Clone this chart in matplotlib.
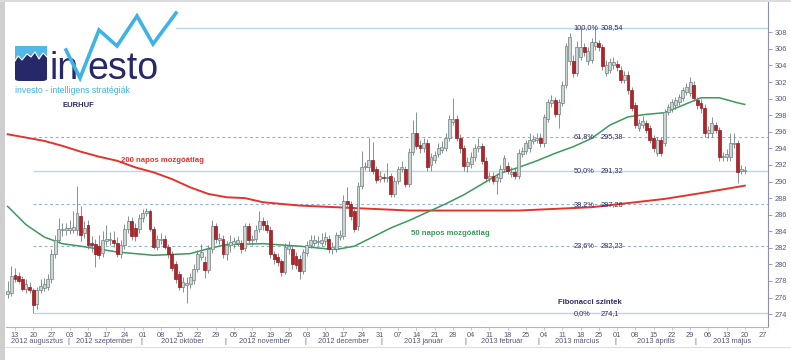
import numpy as np
import pandas as pd
import matplotlib
matplotlib.use("Agg")
import matplotlib.pyplot as plt
from matplotlib.lines import Line2D
from matplotlib.patches import Rectangle, Polygon, FancyBboxPatch

plt.rcParams['font.family'] = ['Liberation Sans', 'DejaVu Sans']

# EURHUF napi gyertyák, 2012.08.09-tol (munkanapok)
opens = [276.4, 276.5, 278.7, 278.6, 278.2, 277.0, 277.3, 276.9, 275.2, 276.9,
         277.2, 277.3, 278.2, 281.2, 283.0, 284.1, 284.2, 284.2, 284.2, 284.2,
         285.8, 283.8, 284.8, 282.6, 282.5, 282.2, 281.4, 282.8, 282.9, 283.0,
         282.6, 281.3, 282.4, 284.3, 285.2, 284.4, 284.3, 285.6, 286.2, 286.4,
         284.3, 282.1, 282.9, 283.1, 282.1, 281.2, 280.0, 278.9, 277.3, 277.5,
         277.6, 278.1, 279.5, 280.9, 280.3, 279.3, 281.8, 284.6, 283.0, 283.1,
         281.2, 282.4, 282.5, 282.6, 282.6, 282.0, 284.6, 282.9, 283.1, 284.3,
         285.2, 284.7, 284.2, 281.2, 280.9, 280.4, 279.1, 281.9, 281.8, 281.0,
         280.7, 279.2, 281.4, 282.4, 282.6, 282.7, 282.6, 282.8, 283.1, 281.8,
         281.9, 283.3, 283.4, 287.6, 287.3, 286.4, 284.6, 289.5, 291.7, 291.7,
         292.6, 291.5, 290.3, 290.6, 290.4, 290.7, 288.5, 290.1, 291.5, 291.5,
         289.7, 293.6, 295.8, 294.4, 294.0, 294.7, 292.0, 292.6, 293.3, 293.8,
         294.1, 295.3, 297.2, 297.6, 295.3, 294.0, 291.9, 292.1, 292.9, 294.0,
         294.3, 292.5, 290.4, 290.7, 290.1, 290.4, 291.5, 291.9, 290.9, 291.1,
         290.7, 293.3, 293.7, 294.0, 294.9, 295.0, 295.3, 294.6, 297.6, 299.5,
         299.8, 298.2, 299.5, 301.7, 304.5, 304.5, 303.1, 305.0, 306.2, 304.5,
         304.7, 306.3, 306.7, 306.2, 303.1, 303.5, 304.0, 304.2, 303.5, 302.3,
         302.9, 301.0, 299.2, 296.5, 296.8, 297.0, 296.4, 295.2, 293.5, 295.0,
         294.7, 298.4, 298.8, 299.2, 299.6, 300.1, 300.8, 300.7, 301.7, 299.8,
         299.5, 298.9, 295.8, 295.8, 296.8, 296.2, 292.9, 292.9, 292.9, 294.5,
         294.6, 291.3, 291.3]
highs = [278.0, 279.8, 279.6, 279.1, 278.6, 278.2, 277.9, 277.2, 277.3, 278.2,
         278.4, 278.9, 281.9, 283.6, 285.6, 285.0, 285.0, 285.3, 286.4, 289.5,
         287.0, 285.2, 285.4, 283.4, 283.1, 283.6, 284.0, 284.7, 283.9, 284.0,
         283.3, 282.9, 284.9, 285.9, 285.7, 285.0, 286.1, 286.7, 286.8, 286.7,
         284.6, 283.6, 283.8, 283.6, 282.5, 281.6, 280.4, 279.2, 278.5, 278.5,
         279.0, 280.0, 281.7, 282.5, 281.0, 282.3, 285.4, 285.0, 283.8, 283.5,
         282.8, 283.6, 283.3, 283.4, 283.0, 285.0, 285.0, 283.6, 284.7, 286.4,
         285.7, 285.3, 284.6, 281.6, 281.4, 280.7, 282.6, 282.8, 282.3, 281.5,
         281.1, 281.9, 282.8, 283.5, 283.6, 283.4, 283.8, 283.9, 283.5, 282.7,
         283.9, 284.1, 288.4, 289.3, 287.7, 286.8, 290.0, 293.7, 292.4, 295.3,
         294.8, 291.9, 291.3, 291.0, 292.2, 291.0, 290.5, 291.9, 292.5, 291.9,
         294.0, 297.4, 298.4, 295.0, 295.3, 295.1, 293.5, 293.7, 294.6, 294.9,
         295.8, 298.0, 300.1, 298.0, 295.7, 294.4, 292.9, 293.6, 294.5, 295.3,
         294.7, 292.9, 291.2, 291.1, 291.0, 292.0, 293.2, 292.4, 291.8, 291.6,
         293.9, 294.2, 295.0, 295.9, 295.6, 295.8, 295.8, 298.2, 300.0, 300.4,
         300.2, 300.0, 302.1, 306.7, 307.9, 305.3, 306.9, 308.5, 306.7, 306.2,
         307.3, 308.54, 307.1, 306.6, 304.6, 304.9, 305.0, 304.7, 303.9, 303.3,
         303.3, 301.4, 299.6, 297.6, 297.9, 297.4, 296.8, 295.6, 295.4, 295.4,
         298.8, 299.4, 300.0, 300.2, 300.6, 301.4, 301.9, 302.6, 302.1, 300.2,
         299.9, 299.3, 296.7, 297.8, 297.2, 296.6, 293.6, 293.9, 295.9, 295.9,
         295.0, 292.0, 291.9]
lows = [275.9, 276.2, 277.9, 277.7, 276.8, 276.6, 276.5, 274.1, 274.6, 276.5,
        276.8, 276.9, 277.8, 280.8, 282.6, 283.4, 283.6, 283.7, 283.8, 283.6,
        282.8, 283.2, 281.9, 281.5, 279.7, 280.6, 280.9, 282.3, 282.4, 282.1,
        280.9, 280.8, 281.9, 283.8, 283.0, 282.8, 283.8, 285.1, 285.8, 284.0,
        281.8, 281.7, 282.5, 281.8, 280.8, 279.2, 277.8, 276.9, 276.7, 275.4,
        277.2, 277.6, 279.1, 280.5, 278.4, 279.0, 281.4, 282.6, 282.5, 280.8,
        280.5, 281.5, 282.0, 282.2, 281.4, 281.6, 282.5, 282.4, 282.7, 283.9,
        284.2, 283.8, 280.8, 280.1, 279.8, 278.6, 278.8, 281.3, 279.5, 279.4,
        278.2, 278.9, 281.0, 282.0, 282.2, 282.3, 282.2, 282.4, 281.4, 281.3,
        281.5, 282.9, 283.1, 286.8, 285.4, 283.9, 284.2, 289.1, 291.4, 291.3,
        290.9, 289.8, 289.9, 290.0, 290.0, 288.1, 288.1, 289.7, 291.1, 289.3,
        289.3, 293.2, 293.9, 293.5, 293.6, 291.3, 291.3, 292.2, 292.9, 293.4,
        293.7, 294.9, 296.8, 294.9, 293.5, 291.3, 291.2, 291.6, 292.5, 293.6,
        292.1, 290.0, 289.9, 289.7, 288.5, 290.0, 291.1, 290.9, 290.5, 290.3,
        290.3, 292.9, 293.3, 293.6, 294.5, 294.6, 294.2, 294.2, 297.2, 299.0,
        297.8, 296.5, 299.1, 301.3, 304.1, 302.6, 302.7, 304.6, 305.1, 304.0,
        304.3, 305.9, 305.8, 303.5, 302.7, 303.1, 303.6, 303.3, 301.9, 301.9,
        300.6, 298.5, 296.4, 296.1, 296.4, 295.8, 294.6, 293.6, 293.1, 293.1,
        294.3, 298.0, 298.4, 298.8, 299.2, 299.7, 300.4, 300.3, 299.7, 298.8,
        298.3, 295.4, 295.3, 295.4, 295.8, 292.5, 292.5, 292.5, 292.5, 294.1,
        289.8, 290.9, 290.9]
closes = [276.8, 278.6, 278.2, 278.0, 277.0, 277.6, 276.9, 275.1, 276.9, 277.4,
          277.6, 278.2, 281.2, 283.0, 284.3, 284.3, 284.4, 284.4, 284.5, 286.2,
          283.6, 284.4, 282.4, 282.3, 281.2, 281.1, 282.9, 283.1, 283.1, 282.6,
          281.3, 282.3, 284.3, 285.2, 283.4, 283.4, 285.6, 286.2, 286.4, 284.3,
          282.1, 283.1, 283.1, 282.1, 281.2, 279.6, 278.2, 277.3, 277.9, 277.7,
          278.5, 279.5, 281.2, 281.5, 279.3, 281.8, 284.6, 283.1, 283.2, 281.2,
          282.3, 282.7, 282.8, 282.9, 281.9, 284.6, 282.9, 283.1, 284.2, 285.2,
          284.7, 284.2, 281.2, 280.7, 280.3, 279.1, 282.1, 282.2, 280.0, 279.9,
          279.2, 281.5, 282.4, 283.0, 283.0, 282.8, 283.0, 283.3, 281.8, 282.1,
          283.5, 283.6, 287.6, 287.3, 285.8, 284.3, 289.5, 291.7, 291.9, 292.6,
          291.3, 290.2, 290.7, 290.4, 290.6, 288.5, 290.1, 291.5, 291.7, 289.7,
          293.6, 295.8, 294.3, 294.0, 294.7, 291.7, 292.9, 293.2, 294.0, 294.2,
          295.3, 297.6, 297.6, 295.3, 294.0, 291.9, 292.4, 292.9, 294.0, 294.3,
          292.5, 290.4, 290.7, 290.1, 290.6, 291.5, 292.8, 291.3, 291.2, 290.7,
          293.5, 293.7, 294.6, 295.0, 295.1, 295.3, 294.6, 297.8, 299.6, 299.8,
          298.2, 299.6, 301.7, 306.3, 307.4, 303.1, 306.2, 306.2, 305.6, 305.7,
          306.8, 306.8, 306.2, 303.9, 304.1, 304.4, 304.4, 303.8, 302.3, 302.8,
          301.0, 298.9, 296.8, 297.1, 297.3, 296.2, 295.0, 294.1, 295.0, 293.5,
          298.4, 299.0, 299.6, 299.8, 300.2, 301.0, 301.4, 302.0, 300.1, 299.2,
          298.9, 295.8, 296.2, 297.0, 296.2, 292.9, 293.1, 293.3, 294.7, 294.7,
          291.1, 291.5, 291.4]

# mozgóátlagok (leolvasott pontok, munkanap-index, 0 = 2012.08.13)
ma200_idx = [-2, 3, 8, 13, 18, 23, 28, 33, 38, 43, 48, 53, 58, 63, 68, 78, 88,
             98, 108, 118, 128, 138, 148, 158, 168, 178, 188, 200]
ma200_val = [295.7, 295.3, 294.9, 294.3, 293.6, 293.0, 292.5, 291.7, 291.1,
             290.3, 289.3, 288.5, 288.1, 288.0, 287.5, 287.1, 286.9, 286.7,
             286.5, 286.5, 286.5, 286.5, 286.7, 286.9, 287.4, 287.9, 288.6, 289.5]
ma50_idx = [-2, 3, 8, 13, 18, 28, 38, 48, 53, 58, 68, 78, 85, 88, 93, 98, 103,
            108, 113, 118, 123, 128, 133, 138, 143, 148, 153, 158, 163, 168,
            173, 178, 183, 188, 193, 198, 200]
ma50_val = [287.0, 284.8, 283.3, 282.5, 282.2, 281.5, 281.1, 281.3, 281.9,
            282.4, 282.5, 282.2, 281.9, 281.8, 282.2, 283.3, 284.4, 285.3, 286.3,
            287.3, 288.4, 289.7, 291.0, 291.7, 292.5, 293.4, 294.2, 295.2, 296.8,
            297.8, 298.1, 298.3, 299.2, 300.1, 300.1, 299.5, 299.3]

fib_ratios = [1.0, 0.618, 0.5, 0.382, 0.236, 0.0]
fib_solid = [True, False, True, False, False, True]
fib_high = 308.54
fib_low = 274.1

month_names = {8: "augusztus", 9: "szeptember", 10: "október", 11: "november",
               12: "december", 1: "január", 2: "február", 3: "március",
               4: "április", 5: "május"}

W, H = 791, 360
NAVY = "#2d2d62"
LBLUE = "#3fb3e3"


def fx(x):
    return x / W


def fy(y):
    return 1 - y / H


fig = plt.figure(figsize=(W / 100, H / 100), dpi=100)
fig.patch.set_facecolor("white")

# naptár a tengelyhez
cal = pd.bdate_range("2012-08-09", "2013-05-31")
cal_x = np.arange(len(cal)) - 2
n = len(closes)
xs = np.arange(n) - 2

# pixel-skála: x = 15 + 3.649*i, y = 32.3 + (308 - v)*8.29
ax = fig.add_axes([fx(6), fy(326.7), fx(768.3) - fx(6), fy(1.7) - fy(326.7)])
x_left = (6 - 15) / 3.649
x_right = (768.3 - 15) / 3.649
ax.set_xlim(x_left, x_right)
ax.set_ylim(308 - (326.7 - 32.3) / 8.29, 308 + (32.3 - 1.7) / 8.29)

# Fibonacci szintek
low_pos = xs[int(np.argmin(lows))]
for r, solid in zip(fib_ratios, fib_solid):
    lvl = fib_low + (fib_high - fib_low) * r
    if solid:
        ax.hlines(lvl, low_pos, x_right, colors="#bcd4ee", lw=1.0, zorder=1)
    else:
        ax.hlines(lvl, low_pos, x_right, colors="#8fb0dc", lw=0.8,
                  linestyles=(0, (2.5, 2.5)), zorder=1)
    pct = f"{r * 100:.1f}%".replace(".", ",")
    val = f"{lvl:.2f}".rstrip("0").replace(".", ",")
    ax.text(153.0, lvl, pct, fontsize=5.3, color=NAVY, va="center", ha="left",
            zorder=5)
    ax.text(160.6, lvl, val, fontsize=5.3, color=NAVY, va="center", ha="left",
            zorder=5)
ax.text(157.5, 275.4, "Fibonacci szintek", fontsize=5.5, color=NAVY,
        ha="center", va="center", fontweight="bold")

# mozgóátlagok
ax.plot(ma200_idx, ma200_val, color="#e3342c", lw=1.4, zorder=2)
ax.plot(ma50_idx, ma50_val, color="#3b9a5c", lw=1.1, zorder=2)
ax.text(40.5, 292.5, "200 napos mozgóátlag", color="#e3342c", fontsize=5.6,
        fontweight="bold", ha="center", va="center")
ax.text(119.2, 283.7, "50 napos mozgóátlag", color="#3b9a5c", fontsize=5.6,
        fontweight="bold", ha="center", va="center")

# gyertyák
o = np.array(opens)
c = np.array(closes)
h = np.array(highs)
lo = np.array(lows)
up = c >= o
ax.vlines(xs, lo, h, colors="#6f8182", lw=0.6, zorder=3)
body_bot = np.minimum(o, c)
body_h = np.maximum(np.abs(c - o), 0.08)
ax.bar(xs[up], body_h[up], bottom=body_bot[up], width=0.8,
       color="#cbd6d3", edgecolor="#6f8182", linewidth=0.5, zorder=4)
ax.bar(xs[~up], body_h[~up], bottom=body_bot[~up], width=0.8,
       color="#b3232a", edgecolor="#8e1c22", linewidth=0.5, zorder=4)

# tengelyek
for s in ["left", "top"]:
    ax.spines[s].set_visible(False)
ax.spines["right"].set_color("#8c90aa")
ax.spines["bottom"].set_color("#b0b4c4")
ax.yaxis.tick_right()
ax.set_yticks(np.arange(274, 309, 2))
ax.tick_params(axis="y", labelsize=5.3, colors="#8c90aa", labelcolor="#55597a",
               length=3, width=0.6, pad=1.5)

is_monday = cal.weekday == 0
mondays = cal_x[is_monday]
ax.set_xticks(mondays)
ax.set_xticklabels([d.strftime("%d") for d in cal[is_monday]])
ax.tick_params(axis="x", labelsize=5.3, colors="#b0b4c4", labelcolor="#55597a",
               length=2, width=0.5, pad=1.5)

# hónapok
month_start = np.r_[True, cal.month[1:] != cal.month[:-1]]
seps = cal_x[month_start][1:] - 0.5
bounds = np.r_[x_left, seps, x_right]
labels = [f"{d.year} {month_names[d.month]}" for d in cal[month_start]]
tr = ax.get_xaxis_transform()
for k, lab in enumerate(labels):
    mid = (bounds[k] + bounds[k + 1]) / 2
    ax.text(mid, -0.047, lab, transform=tr, fontsize=5.3, color="#55597a",
            ha="center", va="center", clip_on=False)
for s in seps:
    ax.text(s, -0.047, "|", transform=tr, fontsize=5.5, color="#55597a",
            ha="center", va="center", clip_on=False)

# keret
fig.add_artist(Rectangle((0, 0), fx(5), 1, transform=fig.transFigure,
                         color="#cfcfcf", lw=0))
fig.add_artist(Rectangle((0, fy(1.5)), 1, fy(0) - fy(1.5),
                         transform=fig.transFigure, color="#dcdcdc", lw=0))
fig.add_artist(Line2D([fx(5), 1], [fy(347), fy(347)], transform=fig.transFigure,
                      color="#dedede", lw=0.8))

# logó
fig.add_artist(Rectangle((fx(6), fy(96)), fx(176) - fx(6), fy(3) - fy(96),
                         transform=fig.transFigure, color="white", lw=0,
                         zorder=10))
fig.add_artist(FancyBboxPatch((fx(15), fy(81)), fx(47) - fx(15), fy(46) - fy(81),
                              boxstyle="round,pad=0,rounding_size=0.006",
                              transform=fig.transFigure, color="#26286a",
                              lw=0, zorder=11))
jag = [(15, 46), (47, 46), (47, 57), (43, 53), (39, 59), (35, 52), (31, 57),
       (27, 54), (22, 60), (18, 56), (15, 61)]
fig.add_artist(Polygon([(fx(a), fy(b)) for a, b in jag], closed=True,
                       transform=fig.transFigure, color="#52b8e6", lw=0,
                       zorder=12))
fig.add_artist(Line2D([fx(a) for a, b in jag[2:]], [fy(b) for a, b in jag[2:]],
                      transform=fig.transFigure, color="white", lw=0.8,
                      zorder=13))
fig.text(fx(49), fy(79), "in", fontsize=27, color="#26286a", ha="left",
         va="baseline", zorder=12)
fig.text(fx(87), fy(79), "esto", fontsize=27, color="#26286a", ha="left",
         va="baseline", zorder=12)
zig = [(66, 50), (80, 78), (99, 30), (117, 46), (137, 16), (153, 44),
       (176, 13)]
fig.add_artist(Line2D([fx(a) for a, b in zig], [fy(b) for a, b in zig],
                      transform=fig.transFigure, color=LBLUE, lw=2.6,
                      solid_joinstyle="miter", zorder=13))
fig.text(fx(15), fy(90.5), "investo - intelligens stratégiák", fontsize=6.3,
         color=LBLUE, ha="left", va="center", zorder=12)
fig.text(fx(78), fy(105), "EURHUF", fontsize=5.5, color=NAVY,
         fontweight="bold", ha="center", va="center", zorder=12)

fig.savefig("out.png", dpi=100)
